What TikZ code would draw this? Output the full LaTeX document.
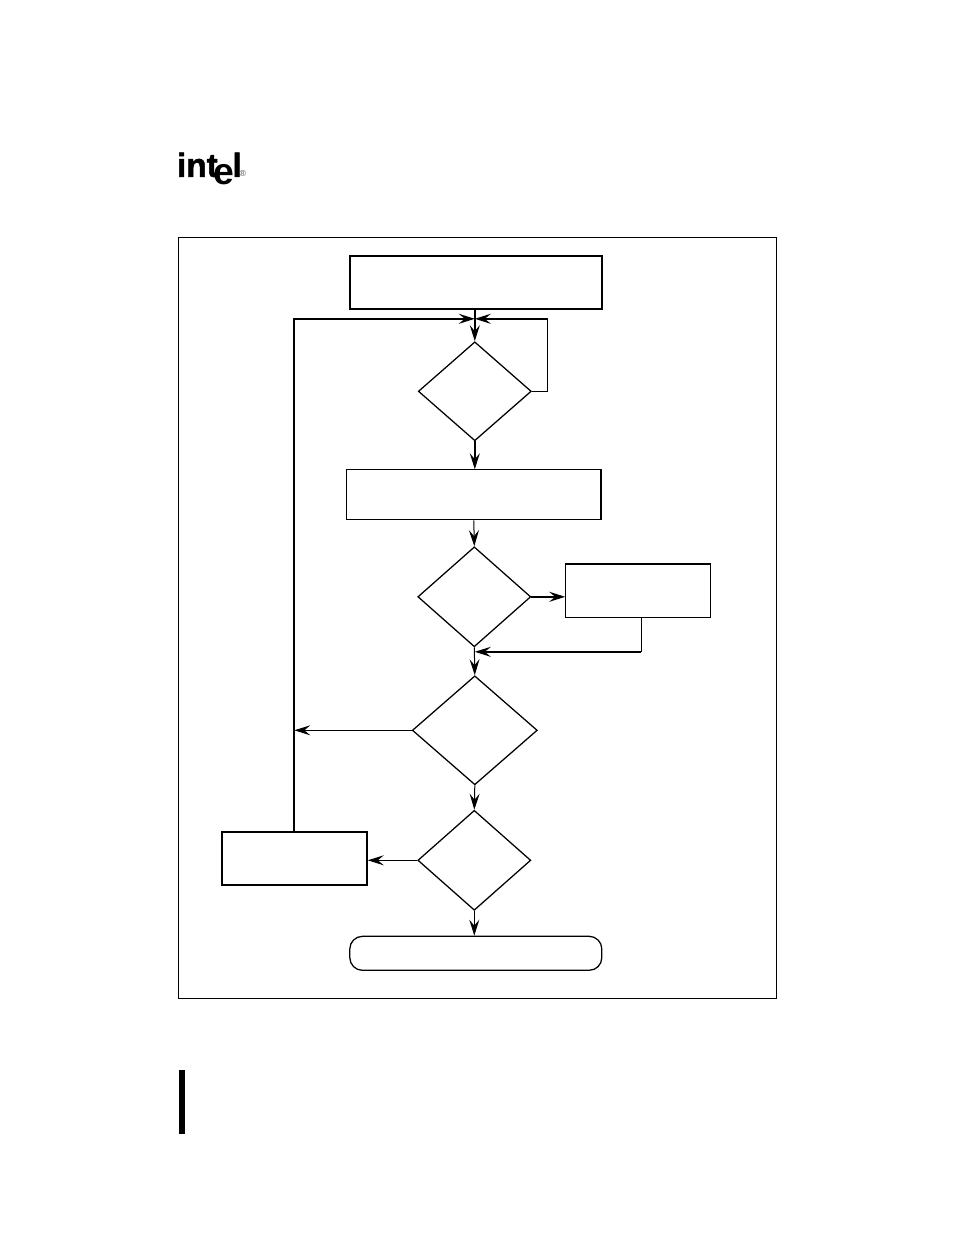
\documentclass[tikz,border=0pt]{standalone}
\usepackage{fontspec}
\setmainfont{Liberation Sans}
\newfontfamily\logofont[BoldFeatures={FakeBold=1.5}]{Liberation Sans}
\usetikzlibrary{positioning,arrows.meta,shapes.geometric}
\tikzset{
  flowbox/.style={draw,rectangle,inner sep=0pt,line width=0.85pt},
  heavybox/.style={flowbox,line width=1.5pt},
  flowtest/.style={draw,diamond,inner sep=0pt,line width=0.95pt},
  flowend/.style={draw,rectangle,rounded corners=9.5pt,inner sep=0pt,line width=0.95pt},
  flow/.style={-{Stealth[length=12pt,width=7.5pt,inset=4.5pt]},line width=0.75pt},
  midflow/.style={flow,line width=1.1pt},
  heavyflow/.style={flow,line width=1.5pt},
  plain/.style={line width=0.85pt},
  logotext/.style={inner sep=0pt,anchor=base west,font=\logofont\fontsize{25}{25}\bfseries}
}

\begin{document}
\begin{tikzpicture}[x=0.75pt,y=-0.75pt]
  \useasboundingbox (0.2,0.2) rectangle (954.2,1235.2);
  % logo
  \node[logotext] (int) at (177,177){int};
  \node[logotext,font=\fontsize{28}{28}\bfseries] (e) at (213,185){e};
  \node[logotext] (l) at (232.5,177){l};
  \node[inner sep=0pt,font=\fontsize{6.5}{6.5}\selectfont,text=black!70] (reg) at (243,174){®};
  % frame and margin bar
  \node[draw,rectangle,inner sep=0pt,line width=0.75pt,minimum width=598*0.75pt,minimum height=761*0.75pt] (frame) at (477.5,618.5){};
  \node[fill=black,rectangle,inner sep=0pt,minimum width=6*0.75pt,minimum height=64*0.75pt] (bar) at (182,1102){};
  % steps
  \node[heavybox,minimum width=252*0.75pt,minimum height=53*0.75pt] (start) at (476,283){};
  \node[flowtest,minimum width=113*0.75pt,minimum height=99*0.75pt] (testa) at (475,391.5){};
  \node[flowbox,minimum width=254*0.75pt,minimum height=50*0.75pt] (load) at (474,495){};
  \node[flowtest,minimum width=113*0.75pt,minimum height=100*0.75pt] (testb) at (474.5,597){};
  \node[flowbox,minimum width=145*0.75pt,minimum height=53*0.75pt] (side) at (638.5,591.5){};
  \node[flowtest,minimum width=125*0.75pt,minimum height=109*0.75pt] (testc) at (475,730.5){};
  \node[flowtest,minimum width=113*0.75pt,minimum height=100*0.75pt] (testd) at (474.5,860.5){};
  \node[heavybox,minimum width=145*0.75pt,minimum height=53*0.75pt] (retry) at (294.5,858.5){};
  \node[flowend,minimum width=252*0.75pt,minimum height=34*0.75pt] (finish) at (476,953.5){};
  % heavier edges
  \draw[line width=1.4pt] (load.north east) -- (load.south east);
  \draw[line width=1.4pt] (side.north west) -- (side.north east);
  % junctions
  \coordinate (joina) at (475,319);
  \coordinate (joinb) at (475,652);
  \coordinate (joinc) at (294.5,730.5);
  % connectors
  \draw[midflow] (start.south -| joina) -- (testa.north);
  \draw[midflow] (testa.south) -- (load.north -| testa.south);
  \draw[flow] (load.south) -- (testb.north);
  \draw[heavyflow] (testb.east) -- (side.west |- testb.east);
  \draw[flow] (testb.south) -- (testc.north);
  \draw[flow] (testc.south) -- (testd.north);
  \draw[flow] (testc.west) -- (joinc);
  \draw[flow] (testd.west) -- (retry.east |- testd.west);
  \draw[flow] (testd.south) -- (finish.north -| testd.south);
  \draw[heavyflow] (retry.north) -- (joina -| retry.north) -- (joina);
  \draw[midflow] (testa.east) -- (547.5,391.5) -- (547.5,319) -- (joina);
  \draw[plain] (side.south -| 641.5,0) -- (641.5,652);
  \draw[heavyflow] (641.5,652) -- (joinb);
\end{tikzpicture}
\end{document}
